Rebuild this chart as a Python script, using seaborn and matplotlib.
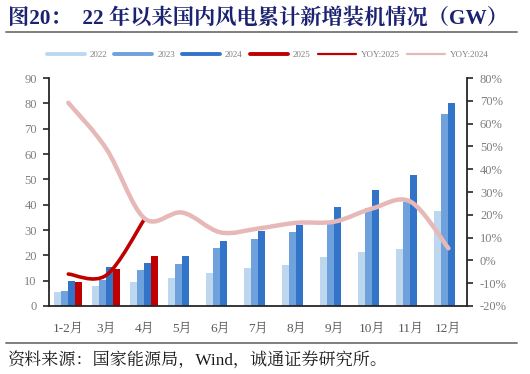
import numpy as np
import pandas as pd
import seaborn as sns
from matplotlib import pyplot as plt
from matplotlib.path import Path
from matplotlib.patches import PathPatch
from matplotlib.lines import Line2D
from matplotlib.ticker import FuncFormatter

months = ["1-2月", "3月", "4月", "5月", "6月", "7月", "8月", "9月", "10月", "11月", "12月"]
years = ["2022", "2023", "2024", "2025"]
cap_2022 = [5.7, 7.9, 9.5, 10.9, 12.9, 14.9, 16.2, 19.2, 21.2, 22.5, 37.7]
cap_2023 = [5.8, 10.3, 14.2, 16.4, 22.8, 26.3, 29.1, 33.5, 38.5, 41.0, 75.8]
cap_2024 = [9.9, 15.4, 16.9, 19.7, 25.8, 29.8, 31.8, 39.1, 45.8, 51.8, 80.0]
cap_2025 = [9.3, 14.6, 19.9]
yoy_2025 = [-6.0, -6.5, 18.0]
yoy_2024 = [69.2, 49.0, 18.5, 21.0, 12.3, 14.0, 16.5, 17.0, 22.8, 25.8, 5.3]

colors = ["#BDD7EE", "#6FA1DC", "#3274C8", "#C00000"]
red_line = "#C00000"
pink_line = "#E6B9B8"
serif_cjk = ["Liberation Serif", "Noto Serif CJK SC", "Noto Sans CJK SC"]


def smooth_path(xs, ys):
    # Catmull-Rom style smoothing like Excel's smoothed line
    pts = np.column_stack([xs, ys]).astype(float)
    n = len(pts)
    verts = [pts[0]]
    codes = [Path.MOVETO]
    for i in range(n - 1):
        p0 = pts[i - 1] if i > 0 else pts[i]
        p1 = pts[i]
        p2 = pts[i + 1]
        p3 = pts[i + 2] if i + 2 < n else pts[i + 1]
        c1 = p1 + (p2 - p0) / 6
        c2 = p2 - (p3 - p1) / 6
        verts += [c1, c2, p2]
        codes += [Path.CURVE4] * 3
    return Path(verts, codes)


def main():
    sns.set_style("white")
    plt.rcParams["font.family"] = serif_cjk
    plt.rcParams["axes.unicode_minus"] = False

    rows = []
    for yr, vals in zip(years, [cap_2022, cap_2023, cap_2024, cap_2025]):
        for m, v in zip(months, vals):
            rows.append({"Month": m, "Year": yr, "GW": v})
    df = pd.DataFrame(rows)

    fig = plt.figure(figsize=(5.3, 3.74), dpi=100)
    ax = fig.add_axes([0.093, 0.182, 0.789, 0.609])
    sns.barplot(df, x="Month", y="GW", hue="Year", order=months, hue_order=years,
                palette=colors, width=0.74, saturation=1, legend=False, ax=ax, linewidth=0)
    ax.set_xlim(-0.5, len(months) - 0.5)
    ax.set_ylim(0, 90)
    ax.set_yticks(range(0, 91, 10))
    ax.set_xlabel("")
    ax.set_ylabel("")
    ax.set_xticks(np.arange(len(months)))
    ax.set_xticklabels(months)
    ax.set_xticks(np.arange(len(months) + 1) - 0.5, minor=True)
    ax.tick_params(axis="x", which="major", length=0, pad=13, labelsize=9.5, labelcolor="#595959")
    ax.tick_params(axis="x", which="minor", length=4, width=1.2, color="#262626", direction="out")
    ax.tick_params(axis="y", length=4, width=1.2, color="#262626", direction="out",
                   labelsize=9, labelcolor="#7F7F7F", pad=5)
    for s in ["top", "right"]:
        ax.spines[s].set_visible(False)
    for s in ["left", "bottom"]:
        ax.spines[s].set_color("#262626")
        ax.spines[s].set_linewidth(1.3)

    ax2 = ax.twinx()
    ax2.set_ylim(-20, 80)
    ax2.set_yticks(range(-20, 81, 10))
    ax2.yaxis.set_major_formatter(FuncFormatter(lambda v, p: f"{v:.0f}%"))
    ax2.tick_params(axis="y", length=4, width=1.2, color="#262626", direction="out",
                    labelsize=9, labelcolor="#7F7F7F", pad=5)
    for s in ["top", "left", "bottom"]:
        ax2.spines[s].set_visible(False)
    ax2.spines["right"].set_color("#262626")
    ax2.spines["right"].set_linewidth(1.3)
    ax2.grid(False)

    x = np.arange(len(months))
    ax2.add_patch(PathPatch(smooth_path(x[:len(yoy_2025)], yoy_2025), fill=False,
                            edgecolor=red_line, lw=2.6, capstyle="round"))
    ax2.add_patch(PathPatch(smooth_path(x, yoy_2024), fill=False,
                            edgecolor=pink_line, lw=3.2, capstyle="round"))

    handles = [Line2D([], [], color=c, lw=2.8) for c in colors]
    handles += [Line2D([], [], color=red_line, lw=1.6), Line2D([], [], color=pink_line, lw=1.6)]
    labels = years + ["YOY:2025", "YOY:2024"]
    fig.legend(handles, labels, loc="center", bbox_to_anchor=(0.505, 0.853), ncol=6,
               frameon=False, fontsize=6.5, handlelength=4.2, handletextpad=0.55,
               columnspacing=0.8, labelcolor="#7F7F7F")

    fig.text(0.015, 0.952, "图20：  22 年以来国内风电累计新增装机情况（GW）", fontsize=15.3,
             fontweight="bold", color="#1B2270", va="center", ha="left")
    fig.add_artist(Line2D([0.012, 0.976], [0.915, 0.915], color="#7F7F7F", lw=1.4))
    fig.add_artist(Line2D([0.012, 0.976], [0.083, 0.083], color="#7F7F7F", lw=1.4))
    fig.text(0.013, 0.037, "资料来源：国家能源局，Wind，诚通证券研究所。", fontsize=12.3,
             color="#1a1a1a", va="center", ha="left")

    fig.savefig("out.png", dpi=100)
    plt.close()


if __name__ == '__main__':
    main()
